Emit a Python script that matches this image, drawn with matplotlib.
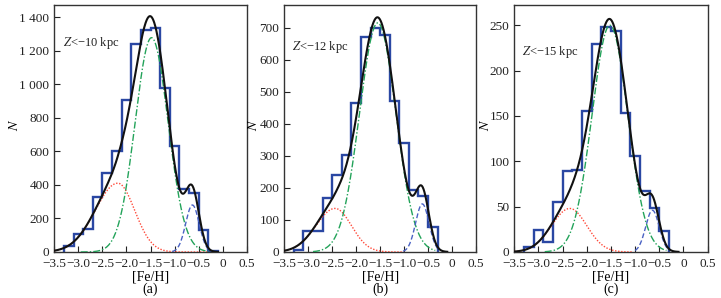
import numpy as np
import matplotlib
matplotlib.use("Agg")
import matplotlib.pyplot as plt

plt.rcParams['font.family'] = ['Liberation Serif', 'DejaVu Serif']
plt.rcParams['mathtext.fontset'] = 'stix'

# ---------------- data ----------------
panel_tags = ['(a)', '(b)', '(c)']
z_labels = ['$Z$<\u221210 kpc', '$Z$<\u221212 kpc', '$Z$<\u221215 kpc']

# histogram bin edges start and counts (bin width 0.2)
hist_start = [-3.3, -3.3, -3.3]
hist_a = [36, 105, 135, 325, 470, 603, 905, 1242, 1325, 1335, 980, 632, 375, 349, 131, 8]
hist_b = [5, 66, 66, 167, 240, 304, 464, 671, 700, 678, 472, 340, 193, 176, 79]
hist_c = [5, 24, 11, 55.5, 89, 90, 155, 229, 248, 244, 153, 106, 67, 48, 23]
bin_width = 0.2

# Gaussian fit components: (amplitude, mean, sigma_left, sigma_right)
red_a = (410, -2.18, 0.47, 0.35)
green_a = (1277, -1.48, 0.34, 0.345)
blue_a = (280, -0.63, 0.14, 0.14)
red_b = (136, -2.44, 0.40, 0.34)
green_b = (715, -1.55, 0.38, 0.38)
blue_b = (150, -0.62, 0.14, 0.14)
red_c = (48, -2.35, 0.38, 0.35)
green_c = (250, -1.52, 0.37, 0.37)
blue_c = (46, -0.64, 0.14, 0.14)
# amplitudes of the components inside the total (black) fit curve
total_amps_a = [410, 1345, 330]
total_amps_b = [136, 728, 168]
total_amps_c = [48, 254, 47]

# drawn x-ranges of each curve (red, green, blue, total)
ranges_a = [(-3.5, -0.3), (-2.95, -0.3), (-1.05, -0.25), (-3.5, -0.1)]
ranges_b = [(-3.5, -1.0), (-2.9, -0.35), (-1.02, -0.3), (-3.5, -0.1)]
ranges_c = [(-3.5, -1.05), (-2.87, -0.35), (-1.0, -0.3), (-3.5, -0.1)]

y_ticks = [list(range(0, 1401, 200)), list(range(0, 701, 100)), list(range(0, 251, 50))]
y_lims = [1470, 770, 272]
x_ticks = [-3.5, -3.0, -2.5, -2.0, -1.5, -1.0, -0.5, 0.0, 0.5]
x_ticklabels = ['\u22123.5', '\u22123.0', '\u22122.5', '\u22122.0', '\u22121.5',
                '\u22121.0', '\u22120.5', '0', '0.5']

# ---------------- styling ----------------
hist_color = '#2a47a3'
red_color = '#ff4a3a'
green_color = '#23a35a'
blue_color = '#4a62c4'
black_color = '#111111'


def split_gauss(x, p, amp=None):
    a, m, sl, sr = p
    if amp is not None:
        a = amp
    s = np.where(x < m, sl, sr)
    return a * np.exp(-0.5 * ((x - m) / s) ** 2)


def fmt_thousands(v):
    v = int(v)
    if v >= 1000:
        return f"{v // 1000} {v % 1000:03d}"
    return str(v)


fig = plt.figure(figsize=(7.21, 2.98), dpi=100)
positions = [
    [54.3 / 721, 1 - 252 / 298, 192.5 / 721, 246.7 / 298],
    [284.3 / 721, 1 - 252 / 298, 191.7 / 721, 246.7 / 298],
    [514.3 / 721, 1 - 252 / 298, 193.2 / 721, 246.7 / 298],
]
hists = [hist_a, hist_b, hist_c]
comps = [(red_a, green_a, blue_a), (red_b, green_b, blue_b), (red_c, green_c, blue_c)]
tot_amps = [total_amps_a, total_amps_b, total_amps_c]
ranges = [ranges_a, ranges_b, ranges_c]
ylabel_x = [-0.175, -0.125, -0.115]
ztext_pos = [(0.045, 0.847), (0.039, 0.832), (0.038, 0.812)]

for i in range(3):
    ax = fig.add_axes(positions[i])
    counts = np.array(hists[i], dtype=float)
    edges = hist_start[i] + bin_width * np.arange(len(counts) + 1)
    ax.stairs(counts, edges, color=hist_color, lw=1.7, baseline=0, zorder=2)

    red, green, blue = comps[i]
    rr, rg, rb, rt = ranges[i]
    xr = np.linspace(*rr, 400)
    xg = np.linspace(*rg, 400)
    xb = np.linspace(*rb, 300)
    xt = np.linspace(*rt, 600)
    ax.plot(xr, split_gauss(xr, red), color=red_color, lw=1.0, ls=(0, (1, 1.2)), zorder=3)
    ax.plot(xg, split_gauss(xg, green), color=green_color, lw=1.0,
            ls=(0, (5, 1.5, 1, 1.5)), zorder=3)
    ax.plot(xb, split_gauss(xb, blue), color=blue_color, lw=1.0, ls=(0, (3.5, 1.8)), zorder=3)
    total = sum(split_gauss(xt, p, amp=a) for p, a in zip((red, green, blue), tot_amps[i]))
    ax.plot(xt, total, color=black_color, lw=1.5, zorder=4)

    ax.set_xlim(-3.5, 0.5)
    ax.set_ylim(0, y_lims[i])
    ax.set_xticks(x_ticks)
    ax.set_xticklabels(x_ticklabels)
    ax.set_yticks(y_ticks[i])
    ax.set_yticklabels([fmt_thousands(v) for v in y_ticks[i]])
    ax.tick_params(direction='in', length=4, width=0.8, labelsize=9.5,
                   colors='#222222', top=False, right=False)
    ax.tick_params(axis='x', pad=4.5)
    ax.tick_params(axis='y', pad=3.5)
    for sp in ax.spines.values():
        sp.set_linewidth(1.0)
        sp.set_color('#333333')

    ax.set_xlabel('[Fe/H]', fontsize=10)
    ax.xaxis.set_label_coords(0.5, -0.075)
    ax.set_ylabel('$N$', fontsize=10)
    ax.yaxis.set_label_coords(ylabel_x[i], 0.515)
    ax.text(0.5, -0.152, panel_tags[i], transform=ax.transAxes, ha='center',
            va='center', fontsize=10)
    zx, zy = ztext_pos[i]
    ax.text(zx, zy, z_labels[i], transform=ax.transAxes, ha='left', va='center',
            fontsize=9, color='#222222')

fig.savefig('out.png', dpi=100)
